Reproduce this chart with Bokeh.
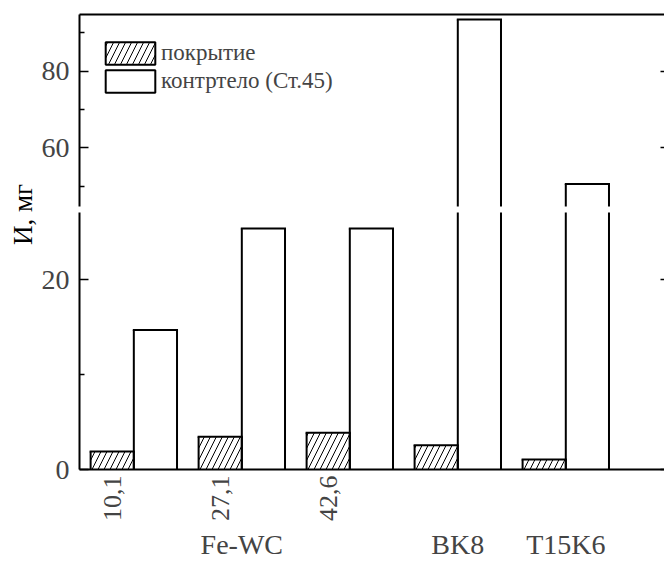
from math import pi
from bokeh.plotting import figure
from bokeh.models import (ColumnDataSource, Range1d, FixedTicker, LinearAxis, Label,
                          Legend, LegendItem, CustomJSTickFormatter)
from bokeh.layouts import row, column
from bokeh.transform import dodge
from bokeh.embed import file_html
from bokeh.resources import INLINE

# ---- data ----
compositions = ["10,1", "27,1", "42,6", "", ""]
materials = ["Fe-WC", "Fe-WC", "Fe-WC", "BK8", "T15K6"]
coating = [1.9, 3.45, 3.87, 2.57, 1.05]
counterbody = [14.7, 25.4, 25.4, 93.5, 50.6]
legend_labels = ["покрытие", "контртело (Ст.45)"]
lower_ticks = [0, 20]
lower_minor = [10]
upper_ticks = [60, 80]
upper_minor = [50, 70, 90]
lower_span = (0, 27.1)
upper_span = (44.7, 94.8)

FONT = "Liberation Serif"
idx = list(range(len(coating)))
src = ColumnDataSource(dict(x=idx, coating=coating, counter=counterbody))

xr = Range1d(-0.503, 4.914)
W = 626
HATCH = dict(hatch_pattern="/", hatch_color="black", hatch_weight=1, hatch_scale=12)


def make_fig(height, yr, btop, bbot):
    p = figure(width=W, height=height, x_range=xr, y_range=Range1d(*yr),
               output_backend="svg", toolbar_location=None,
               min_border_left=41, min_border_right=0,
               min_border_top=btop, min_border_bottom=bbot,
               x_axis_location=None, y_axis_location=None)
    p.grid.visible = False
    p.outline_line_color = None
    p.background_fill_color = "white"
    return p


def left_axis(ticks, minor):
    return LinearAxis(ticker=FixedTicker(ticks=ticks, minor_ticks=minor),
                      major_tick_in=9, major_tick_out=0,
                      minor_tick_in=5, minor_tick_out=0,
                      major_label_standoff=10,
                      major_label_text_font=FONT,
                      major_label_text_font_size="28px",
                      axis_line_width=2, major_tick_line_width=1.5,
                      minor_tick_line_width=1.5)


def right_axis(ticks):
    return LinearAxis(ticker=FixedTicker(ticks=ticks),
                      major_tick_in=4, major_tick_out=0,
                      minor_tick_line_color=None, axis_line_color=None,
                      major_label_standoff=0,
                      formatter=CustomJSTickFormatter(code="return ''"),
                      major_tick_line_width=1.5)


def outlines(p):
    for col, a, b in [("coating", -0.4, 0.0), ("counter", 0.0, 0.4)]:
        for off in (a, b):
            p.segment(x0=dodge("x", off, range=xr), y0=0, x1=dodge("x", off, range=xr),
                      y1=col, source=src, line_color="black", line_width=2)
        p.segment(x0=dodge("x", a, range=xr), y0=col, x1=dodge("x", b, range=xr),
                  y1=col, source=src, line_color="black", line_width=2, line_cap="square")


# ---- upper segment ----
up = make_fig(209, upper_span, 14, 3)
lg1 = up.vbar(x=dodge("x", -0.2, range=xr), top="coating", width=0.4, source=src,
              fill_color="white", line_color="black", line_width=2, visible=False, **HATCH)
lg2 = up.vbar(x=dodge("x", 0.2, range=xr), top="counter", width=0.4, source=src,
              fill_color="white", line_color="black", line_width=2, visible=False)
outlines(up)
up.add_layout(left_axis(upper_ticks, upper_minor), "left")
up.add_layout(right_axis(upper_ticks), "right")
up.add_layout(LinearAxis(ticker=FixedTicker(ticks=[]), major_tick_in=0, major_tick_out=0,
                         minor_tick_line_color=None, major_label_standoff=0,
                         axis_line_width=2), "above")
legend = Legend(items=[LegendItem(label=legend_labels[0], renderers=[lg1]),
                       LegendItem(label=legend_labels[1], renderers=[lg2])],
                location=(20, 111), glyph_width=62, glyph_height=28, spacing=0,
                label_standoff=0, padding=0, margin=0, click_policy="none",
                inactive_fill_alpha=0,
                label_text_font=FONT, label_text_font_size="23px",
                border_line_color=None, background_fill_alpha=0)
up.add_layout(legend)

# ---- lower segment ----
lo = make_fig(353, lower_span, 3, 93)
lo.vbar(x=dodge("x", -0.2, range=xr), top="coating", bottom=0, width=0.4,
        source=src, fill_color="white", line_color=None, **HATCH)
outlines(lo)
lo.add_layout(left_axis(lower_ticks, lower_minor), "left")
lo.add_layout(right_axis(lower_ticks), "right")
comp_ticks = [i - 0.2 for i, c in enumerate(compositions) if c]
xaxis = LinearAxis(ticker=FixedTicker(ticks=comp_ticks),
                   major_label_overrides={t: c for t, c in zip(comp_ticks, [c for c in compositions if c])},
                   major_label_orientation=pi / 2,
                   major_tick_in=0, major_tick_out=0, minor_tick_line_color=None,
                   major_label_standoff=6, major_label_text_font=FONT,
                   major_label_text_font_size="26px", axis_line_width=2)
lo.add_layout(xaxis, "below")

seen = []
for m in materials:
    if m not in seen:
        seen.append(m)
mat_pos = []
for m in seen:
    pos = [i for i, mm in enumerate(materials) if mm == m]
    mat_pos.append(sum(pos) / len(pos))
maxis = LinearAxis(ticker=FixedTicker(ticks=mat_pos),
                   major_label_overrides={t: m for t, m in zip(mat_pos, seen)},
                   major_tick_in=0, major_tick_out=0, minor_tick_line_color=None,
                   axis_line_color=None, major_label_standoff=4,
                   major_label_text_font=FONT, major_label_text_font_size="28px")
lo.add_layout(maxis, "below")

# ---- y label ----
lab = figure(width=38, height=562, x_range=Range1d(0, 38), y_range=Range1d(562, 0),
             output_backend="svg", toolbar_location=None, min_border=0,
             x_axis_location=None, y_axis_location=None)
lab.grid.visible = False
lab.outline_line_color = None
lab.add_layout(Label(x=22, y=214, text="И, мг", angle=pi / 2, text_align="center",
                     text_baseline="middle", text_font=FONT, text_font_size="27px",
                     text_color="black"))

layout = row(lab, column(up, lo))
open("out.html", "w").write(file_html(layout, INLINE))
